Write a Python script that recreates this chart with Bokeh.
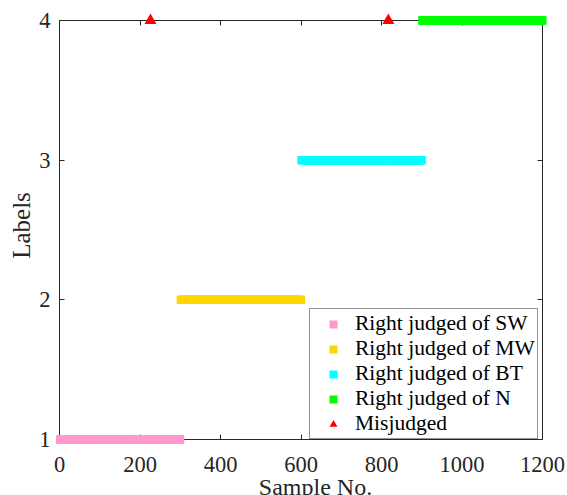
import numpy as np
from bokeh.plotting import figure
from bokeh.models import (LinearAxis, FixedTicker, Legend, LegendItem, Range1d,
                          CustomJSTickFormatter)
from bokeh.core.properties import value
from bokeh.embed import file_html
from bokeh.resources import INLINE

# ---- data -------------------------------------------------------------
classes = ["SW", "MW", "BT", "N"]
class_labels = [1, 2, 3, 4]
block_start = [1, 301, 601, 901]      # first sample number of each class
block_end = [300, 600, 900, 1200]     # last sample number of each class
class_colors = ["#FF99CC", "#FFD700", "#00FFFF", "#00FF00"]

# samples that were put into the wrong class, and the label they got
mis_samples = [226, 817]
mis_labels = [4, 4]

x_ticks = [0, 200, 400, 600, 800, 1000, 1200]
y_ticks = [1, 2, 3, 4]
x_lo, x_hi = 0, 1200
y_lo, y_hi = 1, 4

# ---- layout -----------------------------------------------------------
FONT = "Liberation Serif"
AXC = "#262626"
W, H = 567, 495
BOX_L, BOX_R, BOX_T, BOX_B = 59, 542, 20, 439   # plot frame on the canvas

xs = (BOX_R - BOX_L) / (x_hi - x_lo)   # pixels per x unit
ys = (BOX_B - BOX_T) / (y_hi - y_lo)   # pixels per y unit


def px_to_x(px):
    return x_lo + (px - BOX_L) / xs


def py_to_y(py):
    return y_lo + (BOX_B - py) / ys


p = figure(width=W, height=H,
           x_range=Range1d(x_lo, x_hi), y_range=Range1d(y_lo, y_hi),
           output_backend="svg", toolbar_location=None,
           min_border_left=BOX_L, min_border_right=W - BOX_R,
           min_border_top=BOX_T, min_border_bottom=H - BOX_B)
p.outline_line_color = None
p.xgrid.visible = False
p.ygrid.visible = False


def style_axis(ax, ticks, show_labels, standoff=0):
    ax.ticker = FixedTicker(ticks=ticks, minor_ticks=[])
    ax.axis_line_color = AXC
    ax.axis_line_width = 1
    ax.major_tick_line_color = AXC
    ax.major_tick_in = 5
    ax.major_tick_out = 0
    ax.minor_tick_line_color = None
    if show_labels:
        ax.major_label_text_font = FONT
        ax.major_label_text_font_size = "22.5px"
        ax.major_label_text_color = AXC
        ax.major_label_standoff = standoff
    else:
        ax.formatter = CustomJSTickFormatter(code="return ''")
        ax.major_label_standoff = 0


style_axis(p.xaxis[0], x_ticks, True, 17)
style_axis(p.yaxis[0], y_ticks, True, 9)
top_axis = LinearAxis()
style_axis(top_axis, x_ticks, False)
p.add_layout(top_axis, "above")
right_axis = LinearAxis()
style_axis(right_axis, y_ticks, False)
p.add_layout(right_axis, "right")

# ---- marks (overlay level so edge markers are not cut by the frame) ---------
items = []
for name, lab, s0, s1, col in zip(classes, class_labels, block_start,
                                  block_end, class_colors):
    samples = np.arange(s0, s1 + 1)
    samples = samples[~np.isin(samples, mis_samples)]
    r = p.scatter(samples, np.full(len(samples), lab), marker="square",
                  size=8, fill_color=col, line_color=None, level="overlay")
    items.append(LegendItem(label="Right judged of " + name, renderers=[r]))

r_mis = p.scatter(mis_samples, mis_labels, marker="triangle", size=12,
                  fill_color="#FF0000", line_color=None, level="overlay")
items.append(LegendItem(label="Misjudged", renderers=[r_mis]))

legend = Legend(items=items, location=(309 - BOX_L, 0))
legend.label_text_font = FONT
legend.label_text_font_size = "21.5px"
legend.label_text_color = "black"
legend.padding = 2
legend.margin = 0
legend.spacing = 0
legend.glyph_width = 42
legend.glyph_height = 20
legend.label_height = 23
legend.label_standoff = 1
legend.border_line_color = AXC
legend.border_line_width = 1
legend.background_fill_alpha = 1
p.add_layout(legend, "center")

# ---- axis titles --------------------------------------------------------
p.text(x=[px_to_x(315)], y=[py_to_y(486)], text=["Sample No."],
       text_align="center", text_baseline="alphabetic",
       text_font=value(FONT), text_font_size=value("24px"),
       text_color=AXC, level="overlay")
p.text(x=[px_to_x(21)], y=[py_to_y(225)], text=["Labels"], angle=np.pi / 2,
       text_align="center", text_baseline="alphabetic",
       text_font=value(FONT), text_font_size=value("25px"),
       text_color=AXC, level="overlay")

open("out.html", "w").write(file_html(p, INLINE))
